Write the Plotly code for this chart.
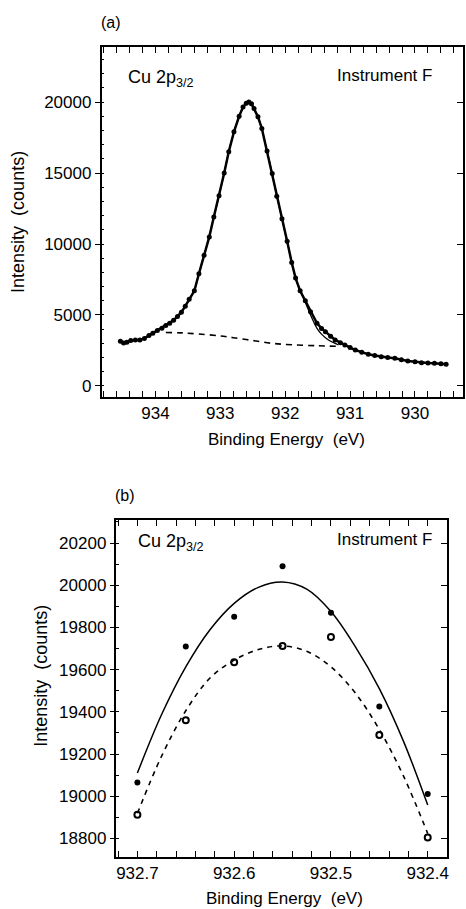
import plotly.graph_objects as go

# ---------------- Panel (a) data ----------------
a_energy = [934.54, 934.49, 934.44, 934.38, 934.31, 934.24, 934.17, 934.10, 934.04, 933.97,
            933.90, 933.84, 933.78, 933.72, 933.66, 933.60, 933.54, 933.48, 933.40, 933.33,
            933.25, 933.17, 933.10, 933.02, 932.94, 932.87, 932.79, 932.71, 932.65, 932.60,
            932.56, 932.52, 932.48, 932.42, 932.36, 932.28, 932.20, 932.13, 932.05, 931.97,
            931.90, 931.84, 931.77, 931.69, 931.61, 931.51, 931.44, 931.38, 931.30, 931.23,
            931.15, 931.08, 931.00, 930.92, 930.82, 930.72, 930.62, 930.52, 930.42, 930.31,
            930.21, 930.11, 930.00, 929.90, 929.80, 929.70, 929.60, 929.52]
a_counts = [3150, 3020, 3080, 3200, 3230, 3230, 3350, 3550, 3720, 3900,
            4070, 4250, 4420, 4620, 4900, 5200, 5620, 6100, 6700, 7900,
            9200, 10500, 11900, 13400, 15000, 16500, 17900, 19000, 19650, 19920,
            20000, 19880, 19550, 18960, 18140, 16550, 14960, 13370, 11780, 10190,
            8700, 7600, 6700, 6000, 5230, 4410, 4050, 3820, 3500, 3240,
            3050, 2890, 2700, 2530, 2380, 2230, 2140, 2060, 2000, 1950,
            1850, 1760, 1700, 1640, 1620, 1600, 1560, 1530]

a_fit_energy = [933.84, 933.72, 933.60, 933.48, 933.40, 933.33, 933.25, 933.17, 933.10, 933.02,
                932.94, 932.87, 932.79, 932.71, 932.65, 932.60, 932.56, 932.52, 932.48, 932.42,
                932.36, 932.28, 932.20, 932.13, 932.05, 931.97, 931.90, 931.84, 931.77, 931.69,
                931.61, 931.51, 931.44, 931.38, 931.30, 931.23, 931.18]
a_fit_counts = [4250, 4620, 5200, 6100, 6700, 7900, 9200, 10500, 11900, 13400,
                15000, 16500, 17900, 19000, 19650, 19920, 20000, 19880, 19550, 18960,
                18140, 16550, 14960, 13370, 11780, 10190, 8700, 7600, 6700, 5900,
                5000, 4060, 3650, 3400, 3150, 3000, 2880]

a_bg_energy = [933.84, 933.60, 933.33, 933.00, 932.80, 932.50, 932.20, 931.90, 931.50, 931.18]
a_bg_counts = [3760, 3740, 3660, 3520, 3400, 3200, 3000, 2900, 2830, 2790]

a_xticks = [934, 933, 932, 931, 930]
a_yticks = [0, 5000, 10000, 15000, 20000]

# ---------------- Panel (b) data ----------------
b_energy = [932.70, 932.65, 932.60, 932.55, 932.50, 932.45, 932.40]
b_upper = [19065, 19710, 19850, 20090, 19870, 19425, 19010]
b_lower = [18912, 19360, 19635, 19712, 19755, 19290, 18805]

b_solid_energy = [932.700, 932.675, 932.650, 932.625, 932.600, 932.575, 932.550,
                  932.525, 932.500, 932.475, 932.450, 932.425, 932.400]
b_solid_counts = [19110, 19387, 19613, 19789, 19914, 19990, 20015,
                  19981, 19875, 19710, 19510, 19260, 18958]

b_dash_energy = [932.700, 932.675, 932.650, 932.625, 932.600, 932.575, 932.550,
                 932.525, 932.500, 932.475, 932.450, 932.425, 932.400]
b_dash_counts = [18919, 19190, 19405, 19560, 19645, 19695, 19712,
                 19687, 19613, 19490, 19316, 19095, 18823]

b_xticks = [932.7, 932.6, 932.5, 932.4]
b_yticks = [18800, 19000, 19200, 19400, 19600, 19800, 20000, 20200]

W, H = 466, 909
FONT = "Liberation Sans, Arial, Helvetica, sans-serif"


def px(x):
    return x / W


def py(y):
    return 1 - y / H


fig = go.Figure()

# Panel (a)
fig.add_trace(go.Scatter(x=a_energy, y=a_counts, mode="lines+markers",
                         line=dict(color="black", width=2.5),
                         marker=dict(color="black", size=5), xaxis="x", yaxis="y",
                         showlegend=False))
fig.add_trace(go.Scatter(x=a_fit_energy, y=a_fit_counts, mode="lines",
                         line=dict(color="black", width=1.3, shape="spline", smoothing=0.6),
                         xaxis="x", yaxis="y", showlegend=False))
fig.add_trace(go.Scatter(x=a_bg_energy, y=a_bg_counts, mode="lines",
                         line=dict(color="black", width=1.6, dash="6px,5px", shape="spline"),
                         xaxis="x", yaxis="y", showlegend=False))

# Panel (b)
fig.add_trace(go.Scatter(x=b_solid_energy, y=b_solid_counts, mode="lines",
                         line=dict(color="black", width=1.5, shape="spline", smoothing=1.0),
                         xaxis="x2", yaxis="y2", showlegend=False))
fig.add_trace(go.Scatter(x=b_dash_energy, y=b_dash_counts, mode="lines",
                         line=dict(color="black", width=1.6, dash="5px,5px", shape="spline",
                                   smoothing=1.0),
                         xaxis="x2", yaxis="y2", showlegend=False))
fig.add_trace(go.Scatter(x=b_energy, y=b_upper, mode="markers",
                         marker=dict(color="black", size=6, symbol="circle"),
                         xaxis="x2", yaxis="y2", showlegend=False))
fig.add_trace(go.Scatter(x=b_energy, y=b_lower, mode="markers",
                         marker=dict(color="black", size=6, symbol="circle-open",
                                     line=dict(width=2, color="black")),
                         xaxis="x2", yaxis="y2", showlegend=False))

# dummy traces for the right-hand tick axes
fig.add_trace(go.Scatter(x=[None], y=[None], xaxis="x", yaxis="y3", showlegend=False))
fig.add_trace(go.Scatter(x=[None], y=[None], xaxis="x2", yaxis="y4", showlegend=False))

tickfont = dict(family=FONT, size=17, color="black")
common_x = dict(showline=True, linecolor="black", linewidth=1.5, mirror="allticks",
                ticks="inside", ticklen=6, tickwidth=1.2, tickcolor="black",
                showgrid=False, zeroline=False, tickfont=tickfont)
common_y = dict(showline=True, linecolor="black", linewidth=1.5, mirror=True,
                ticks="outside", ticklen=5, tickwidth=1.2, tickcolor="black",
                showgrid=False, zeroline=False, tickfont=tickfont)

fig.update_layout(
    width=W, height=H,
    margin=dict(l=0, r=0, t=0, b=0),
    paper_bgcolor="white", plot_bgcolor="white",
    font=dict(family=FONT, color="black"),
    xaxis=dict(domain=[px(102), px(465)], anchor="y", range=[934.83, 929.26],
               tickvals=a_xticks, ticktext=[str(v) for v in a_xticks],
               minor=dict(dtick=0.2, ticks="inside", ticklen=3, tickcolor="black"),
               **common_x),
    yaxis=dict(domain=[py(397), py(47)], anchor="x", range=[-780, 23880],
               tickvals=a_yticks, ticktext=[str(v) for v in a_yticks],
               minor=dict(dtick=1000, ticks="inside", ticklen=3, tickcolor="black"),
               **common_y),
    yaxis3=dict(overlaying="y", anchor="x", side="right", range=[-780, 23880],
                tickvals=a_yticks, showticklabels=False, ticks="inside", ticklen=6,
                tickcolor="black", showgrid=False, zeroline=False, showline=False),
    xaxis2=dict(domain=[px(117), px(449)], anchor="y2", range=[932.7216, 932.380],
                tickvals=b_xticks, ticktext=[f"{v:.1f}" for v in b_xticks],
                minor=dict(dtick=0.02, ticks="inside", ticklen=3, tickcolor="black"),
                **common_x),
    yaxis2=dict(domain=[py(857), py(520)], anchor="x2", range=[18712, 20309],
                tickvals=b_yticks, ticktext=[str(v) for v in b_yticks],
                minor=dict(dtick=100, ticks="inside", ticklen=3, tickcolor="black"),
                **common_y),
    yaxis4=dict(overlaying="y2", anchor="x2", side="right", range=[18712, 20309],
                tickvals=b_yticks, showticklabels=False, ticks="inside", ticklen=6,
                tickcolor="black", showgrid=False, zeroline=False, showline=False),
)

ann_font = dict(family=FONT, size=18, color="black")
mid_font = dict(family=FONT, size=17, color="black")
small_font = dict(family=FONT, size=16, color="black")
annotations = [
    dict(text="(a)", x=px(111), y=py(22), font=small_font),
    dict(text="(b)", x=px(126), y=py(495), font=small_font),
    dict(text="Cu 2p<sub>3/2</sub>", x=px(127), y=py(78), xanchor="left"),
    dict(text="Instrument F", x=px(436), y=py(75), xanchor="right", font=mid_font),
    dict(text="Cu 2p<sub>3/2</sub>", x=px(137), y=py(542), xanchor="left"),
    dict(text="Instrument F", x=px(436), y=py(539), xanchor="right", font=mid_font),
    dict(text="Binding Energy  (eV)", x=px(288), y=py(439), font=mid_font),
    dict(text="Binding Energy  (eV)", x=px(286), y=py(898), font=mid_font),
    dict(text="Intensity  (counts)", x=px(18), y=py(222), textangle=-90),
    dict(text="Intensity  (counts)", x=px(41), y=py(676), textangle=-90),
]
for a in annotations:
    a.setdefault("xanchor", "center")
    a.setdefault("yanchor", "middle")
    a.setdefault("font", ann_font)
    fig.add_annotation(xref="paper", yref="paper", showarrow=False, **a)

fig.write_html("out.html",
               config={"displayModeBar": False},
               post_script="document.body.style.margin='0';document.body.style.overflow='hidden';")
